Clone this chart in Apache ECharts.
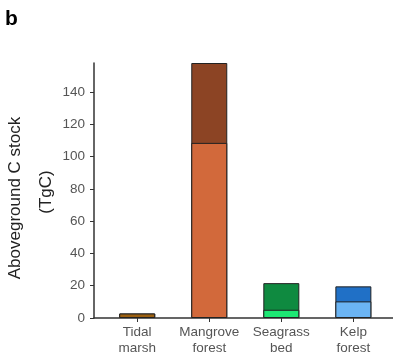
<!DOCTYPE html>
<html>
<head>
<meta charset="utf-8">
<script src="https://cdn.jsdelivr.net/npm/echarts@6/dist/echarts.min.js"></script>
<style>
  html, body { margin: 0; padding: 0; background: #fff; }
  #chart { width: 393px; height: 356px; }
</style>
</head>
<body>
<div id="chart"></div>
<script>
// habitat categories (x positions 0..3)
const categories = ['Tidal\nmarsh', 'Mangrove\nforest', 'Seagrass\nbed', 'Kelp\nforest']
// lower and upper stacked parts, TgC
const lowerStock = [2.8, 108.5, 5.1, 10.3]
const upperStock = [0, 49.5, 16.5, 9.3]
const lowerColors = ['#9c6011', '#d2693b', '#1de874', '#6bb4f3']
const upperColors = ['#9c6011', '#8c4424', '#0f8a40', '#2070c6']
const yTicks = [0, 20, 40, 60, 80, 100, 120, 140]

const chart = echarts.init(document.getElementById('chart'))

// full bar (upper colour) drawn first, lower part drawn over it
const totals = lowerStock.map((v, i) => v + upperStock[i])

const makeData = (vals, colors) => vals.map((v, i) => ({
  value: [i, v],
  itemStyle: { color: colors[i] }
}))

const barStyle = { borderColor: '#222', borderWidth: 1 }
const font = 'Liberation Sans, Arial, sans-serif'

chart.setOption({
  animation: false,
  textStyle: { fontFamily: font },
  grid: { left: 94, right: 0, top: 63, bottom: 36 },
  xAxis: {
    type: 'value',
    min: -0.6,
    max: 3.55,
    splitLine: { show: false },
    axisLine: { onZero: false, lineStyle: { color: '#333', width: 1.5 } },
    axisTick: { customValues: [0, 1, 2, 3], length: 4, lineStyle: { color: '#333' } },
    axisLabel: {
      customValues: [0, 1, 2, 3],
      formatter: v => categories[Math.round(v)] || '',
      color: '#555',
      fontSize: 13.5,
      lineHeight: 16,
      margin: 6
    }
  },
  yAxis: {
    type: 'value',
    min: 0,
    max: 158,
    interval: 20,
    splitLine: { show: false },
    axisLine: { show: true, onZero: false, lineStyle: { color: '#333', width: 1.5 } },
    axisTick: { show: true, customValues: yTicks, length: 4, lineStyle: { color: '#333' } },
    axisLabel: { customValues: yTicks, color: '#555', fontSize: 13.5, margin: 9 }
  },
  graphic: [
    {
      type: 'text', left: 5, top: 9,
      style: { text: 'b', font: 'bold 21px ' + font, fill: '#000' }
    },
    {
      type: 'text', x: 15, y: 198, rotation: Math.PI / 2,
      style: {
        text: 'Aboveground C stock', font: '17px ' + font,
        fill: '#222', align: 'center', verticalAlign: 'middle'
      }
    },
    {
      type: 'text', x: 46, y: 192, rotation: Math.PI / 2,
      style: {
        text: '(TgC)', font: '17px ' + font,
        fill: '#222', align: 'center', verticalAlign: 'middle'
      }
    }
  ],
  series: [
    {
      type: 'bar', name: 'total', barWidth: 36, barGap: '-100%',
      itemStyle: barStyle,
      data: makeData(totals, upperColors)
    },
    {
      type: 'bar', name: 'lower', barWidth: 36, barGap: '-100%',
      itemStyle: barStyle,
      data: makeData(lowerStock, lowerColors)
    }
  ]
})
</script>
</body>
</html>
